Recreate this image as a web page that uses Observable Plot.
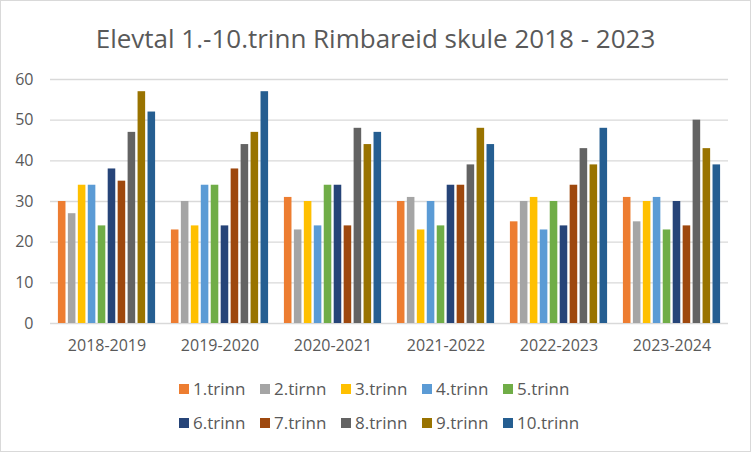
<!DOCTYPE html>
<html>
<head>
<meta charset="utf-8">
<script src="https://cdn.jsdelivr.net/npm/d3@7"></script>
<script src="https://cdn.jsdelivr.net/npm/@observablehq/plot@0.6"></script>
<style>
  body { margin: 0; background: #fff; }
  #chart { position: relative; width: 751px; height: 452px; font-family: "Open Sans", "Noto Sans", sans-serif; color: #595959; overflow: hidden; background: #fff; }
  #frame { position: absolute; left: 0; top: 0; width: 751px; height: 452px; box-sizing: border-box; border: 1px solid #d9d9d9; pointer-events: none; }
  #title { position: absolute; left: 0; top: 21px; width: 751px; text-align: center; font-size: 26px; line-height: 34px; color: #595959; white-space: nowrap; }
  .layer { position: absolute; left: 0; top: 60px; }
  .layer svg { display: block; }
  #legend { position: absolute; left: 0; top: 0; }
  .item { position: absolute; display: flex; align-items: center; font-size: 17px; line-height: 20px; color: #595959; white-space: nowrap; }
  .sw { width: 10px; height: 10px; margin-right: 4px; }
</style>
</head>
<body>
<div id="chart">
  <div id="title">Elevtal 1.-10.trinn Rimbareid skule 2018 - 2023</div>
  <div id="grid" class="layer"></div>
  <div id="bars" class="layer"></div>
  <div id="legend"></div>
  <div id="frame"></div>
</div>
<script>
const years = ["2018-2019", "2019-2020", "2020-2021", "2021-2022", "2022-2023", "2023-2024"];
const series = ["1.trinn", "2.tirnn", "3.trinn", "4.trinn", "5.trinn", "6.trinn", "7.trinn", "8.trinn", "9.trinn", "10.trinn"];
const colors = ["#ED7D31", "#A5A5A5", "#FFC000", "#5B9BD5", "#70AD47", "#264478", "#9E480E", "#636363", "#997300", "#255E91"];
const yTicks = [0, 10, 20, 30, 40, 50, 60];

const v2018 = [30, 27, 34, 34, 24, 38, 35, 47, 57, 52];
const v2019 = [23, 30, 24, 34, 34, 24, 38, 44, 47, 57];
const v2020 = [31, 23, 30, 24, 34, 34, 24, 48, 44, 47];
const v2021 = [30, 31, 23, 30, 24, 34, 34, 39, 48, 44];
const v2022 = [25, 30, 31, 23, 30, 24, 34, 43, 39, 48];
const v2023 = [31, 25, 30, 31, 23, 30, 24, 50, 43, 39];
const valuesByYear = [v2018, v2019, v2020, v2021, v2022, v2023];

const data = years.flatMap((yr, i) => series.map((s, j) => ({year: yr, trinn: s, value: valuesByYear[i][j]})));

const W = 751, H = 310;
const margins = {marginLeft: 50, marginRight: 23, marginTop: 19, marginBottom: 47};
const style = {background: "transparent", fontFamily: "'Open Sans', 'Noto Sans', sans-serif", fontSize: "16px", color: "#595959", overflow: "visible"};

const gridPlot = Plot.plot({
  width: W, height: H, ...margins, style,
  y: {domain: [0, 60], ticks: yTicks, tickSize: 0, tickPadding: 17, label: null},
  marks: [
    Plot.ruleY(yTicks, {stroke: "#d9d9d9", strokeWidth: 1.4})
  ]
});
document.getElementById("grid").appendChild(gridPlot);

const barPlot = Plot.plot({
  width: W, height: H, ...margins, style,
  fx: {domain: years, paddingInner: 0.14, paddingOuter: 0.07, round: false, label: null, axis: "bottom", tickSize: 0, tickPadding: 16},
  x: {domain: series, paddingInner: 0.24, paddingOuter: 0, round: false, axis: null},
  y: {domain: [0, 60], axis: null},
  color: {domain: series, range: colors},
  marks: [
    Plot.barY(data, {fx: "year", x: "trinn", y: "value", fill: "trinn"})
  ]
});
document.getElementById("bars").appendChild(barPlot);

const legend = document.getElementById("legend");
series.forEach((s, i) => {
  const row = Math.floor(i / 5), col = i % 5;
  const item = document.createElement("div");
  item.className = "item";
  item.style.left = (179 + col * 81) + "px";
  item.style.top = (379 + row * 34) + "px";
  const sw = document.createElement("span");
  sw.className = "sw";
  sw.style.background = colors[i];
  const tx = document.createElement("span");
  tx.textContent = s;
  item.appendChild(sw);
  item.appendChild(tx);
  legend.appendChild(item);
});
</script>
</body>
</html>
